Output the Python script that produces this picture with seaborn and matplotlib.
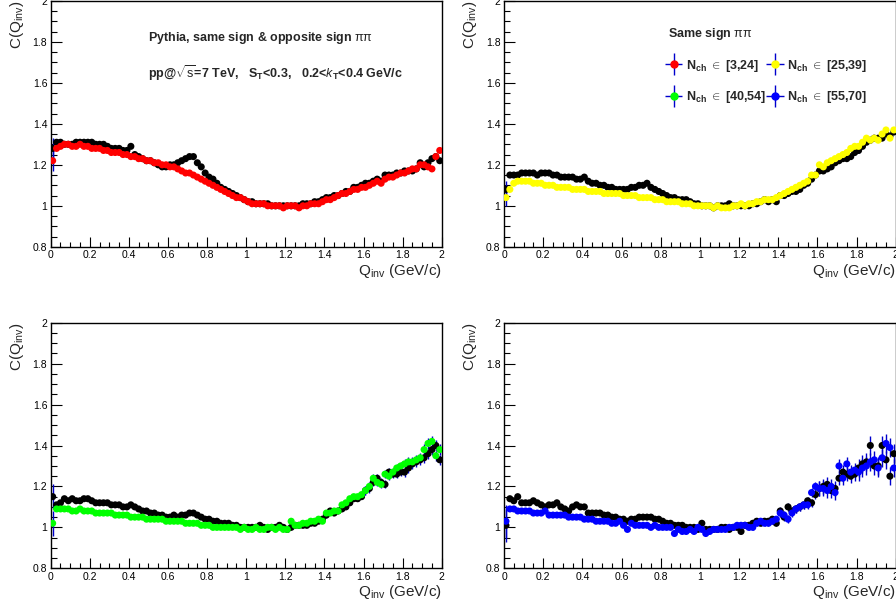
import numpy as np
import pandas as pd
import matplotlib
matplotlib.use("Agg")
import matplotlib.pyplot as plt
import seaborn as sns
from matplotlib.ticker import MultipleLocator
from matplotlib.legend_handler import HandlerErrorbar
from matplotlib.container import ErrorbarContainer

# ---------------- data ----------------
q_inv = np.round(np.arange(0.01, 2.0, 0.02), 2)

p1_black = [1.28, 1.31, 1.31, 1.30, 1.30, 1.30, 1.31, 1.31, 1.31, 1.31,
            1.31, 1.30, 1.30, 1.30, 1.29, 1.28, 1.28, 1.28, 1.27, 1.27,
            1.29, 1.25, 1.24, 1.23, 1.22, 1.22, 1.21, 1.20, 1.19, 1.19,
            1.20, 1.20, 1.21, 1.22, 1.23, 1.24, 1.24, 1.21, 1.19, 1.16,
            1.14, 1.13, 1.11, 1.09, 1.08, 1.07, 1.06, 1.05, 1.04, 1.03,
            1.02, 1.02, 1.01, 1.01, 1.01, 1.01, 1.00, 1.00, 1.00, 1.00,
            1.00, 1.00, 1.00, 1.00, 1.01, 1.01, 1.01, 1.02, 1.02, 1.03,
            1.04, 1.04, 1.05, 1.05, 1.06, 1.07, 1.07, 1.09, 1.09, 1.10,
            1.11, 1.11, 1.12, 1.13, 1.12, 1.15, 1.15, 1.15, 1.16, 1.16,
            1.17, 1.17, 1.17, 1.18, 1.21, 1.19, 1.21, 1.23, 1.24, 1.22]
p1_red = [1.22, 1.28, 1.29, 1.30, 1.30, 1.29, 1.29, 1.30, 1.29, 1.29,
          1.28, 1.28, 1.28, 1.27, 1.27, 1.26, 1.26, 1.26, 1.25, 1.25,
          1.24, 1.24, 1.23, 1.23, 1.22, 1.22, 1.21, 1.21, 1.20, 1.20,
          1.19, 1.19, 1.18, 1.17, 1.16, 1.16, 1.15, 1.14, 1.13, 1.12,
          1.11, 1.10, 1.09, 1.08, 1.07, 1.06, 1.05, 1.04, 1.04, 1.03,
          1.02, 1.01, 1.01, 1.01, 1.01, 1.00, 1.00, 1.00, 1.00, 0.99,
          1.00, 1.00, 1.00, 0.99, 1.00, 1.00, 1.01, 1.01, 1.01, 1.02,
          1.03, 1.03, 1.04, 1.05, 1.06, 1.06, 1.07, 1.08, 1.08, 1.09,
          1.09, 1.10, 1.11, 1.12, 1.11, 1.13, 1.14, 1.14, 1.15, 1.16,
          1.16, 1.17, 1.18, 1.18, 1.20, 1.20, 1.19, 1.18, 1.24, 1.27]

p2_black = [1.08, 1.15, 1.15, 1.15, 1.16, 1.16, 1.16, 1.16, 1.15, 1.16,
            1.16, 1.16, 1.15, 1.15, 1.14, 1.14, 1.14, 1.14, 1.13, 1.13,
            1.14, 1.12, 1.11, 1.11, 1.10, 1.10, 1.09, 1.09, 1.08, 1.08,
            1.08, 1.08, 1.09, 1.09, 1.10, 1.10, 1.11, 1.09, 1.08, 1.07,
            1.06, 1.05, 1.04, 1.04, 1.03, 1.03, 1.03, 1.02, 1.01, 1.01,
            1.00, 1.00, 1.00, 0.99, 1.00, 1.00, 1.00, 1.01, 1.00, 1.00,
            1.00, 1.00, 1.00, 1.01, 1.01, 1.02, 1.03, 1.02, 1.03, 1.02,
            1.05, 1.05, 1.06, 1.07, 1.07, 1.08, 1.10, 1.11, 1.13, 1.15,
            1.17, 1.17, 1.18, 1.19, 1.21, 1.22, 1.23, 1.23, 1.24, 1.26,
            1.27, 1.29, 1.31, 1.32, 1.33, 1.33, 1.33, 1.35, 1.34, 1.36]
p2_yellow = [1.04, 1.08, 1.11, 1.12, 1.12, 1.12, 1.12, 1.11, 1.11, 1.11,
             1.10, 1.10, 1.10, 1.09, 1.09, 1.09, 1.09, 1.08, 1.08, 1.08,
             1.08, 1.07, 1.07, 1.07, 1.07, 1.06, 1.06, 1.06, 1.06, 1.06,
             1.05, 1.05, 1.05, 1.05, 1.04, 1.04, 1.04, 1.04, 1.03, 1.03,
             1.03, 1.02, 1.02, 1.02, 1.02, 1.01, 1.01, 1.01, 1.00, 1.00,
             1.00, 1.00, 1.00, 0.99, 1.00, 0.99, 0.99, 0.99, 1.00, 1.00,
             1.01, 1.00, 1.01, 1.01, 1.02, 1.02, 1.03, 1.03, 1.03, 1.04,
             1.05, 1.06, 1.07, 1.08, 1.09, 1.10, 1.11, 1.12, 1.15, 1.15,
             1.20, 1.19, 1.21, 1.22, 1.23, 1.24, 1.25, 1.26, 1.28, 1.29,
             1.29, 1.31, 1.33, 1.32, 1.33, 1.32, 1.35, 1.37, 1.33, 1.37]

p3_black = [1.15, 1.11, 1.12, 1.14, 1.13, 1.14, 1.13, 1.13, 1.14, 1.14,
            1.13, 1.12, 1.12, 1.12, 1.12, 1.11, 1.11, 1.11, 1.10, 1.10,
            1.11, 1.10, 1.09, 1.08, 1.08, 1.07, 1.07, 1.06, 1.06, 1.05,
            1.05, 1.06, 1.05, 1.06, 1.06, 1.07, 1.07, 1.06, 1.05, 1.04,
            1.04, 1.03, 1.03, 1.02, 1.02, 1.02, 1.01, 1.01, 1.00, 1.00,
            1.00, 1.00, 1.00, 1.01, 1.00, 0.99, 1.00, 1.00, 1.01, 1.00,
            0.99, 1.00, 1.01, 1.01, 1.01, 1.01, 1.02, 1.02, 1.03, 1.04,
            1.06, 1.08, 1.07, 1.08, 1.09, 1.10, 1.12, 1.14, 1.14, 1.15,
            1.18, 1.19, 1.22, 1.24, 1.22, 1.21, 1.27, 1.26, 1.26, 1.27,
            1.27, 1.29, 1.31, 1.32, 1.33, 1.34, 1.36, 1.38, 1.40, 1.33]
p3_green = [1.02, 1.09, 1.09, 1.09, 1.09, 1.08, 1.08, 1.09, 1.08, 1.08,
            1.08, 1.07, 1.07, 1.07, 1.07, 1.07, 1.06, 1.06, 1.06, 1.06,
            1.05, 1.05, 1.05, 1.05, 1.04, 1.04, 1.04, 1.04, 1.04, 1.03,
            1.03, 1.03, 1.03, 1.03, 1.02, 1.02, 1.02, 1.02, 1.01, 1.01,
            1.01, 1.00, 1.00, 1.00, 1.00, 1.00, 1.00, 1.00, 0.99, 1.00,
            0.99, 0.99, 1.00, 0.99, 0.99, 1.00, 1.00, 0.99, 1.00, 0.99,
            0.99, 1.03, 1.01, 1.01, 1.02, 1.02, 1.03, 1.03, 1.04, 1.03,
            1.07, 1.07, 1.08, 1.08, 1.11, 1.12, 1.14, 1.15, 1.15, 1.16,
            1.18, 1.20, 1.24, 1.22, 1.21, 1.26, 1.25, 1.27, 1.29, 1.30,
            1.31, 1.32, 1.32, 1.33, 1.34, 1.38, 1.41, 1.42, 1.35, 1.38]

p4_black = [1.01, 1.14, 1.13, 1.15, 1.12, 1.12, 1.12, 1.13, 1.12, 1.11,
            1.10, 1.11, 1.11, 1.12, 1.10, 1.09, 1.08, 1.10, 1.11, 1.10,
            1.10, 1.07, 1.07, 1.07, 1.07, 1.06, 1.06, 1.05, 1.05, 1.04,
            1.04, 1.03, 1.04, 1.04, 1.05, 1.05, 1.05, 1.05, 1.04, 1.04,
            1.03, 1.02, 1.02, 1.01, 1.01, 1.01, 1.00, 1.00, 1.00, 0.99,
            1.02, 0.99, 0.99, 0.99, 0.99, 1.00, 1.00, 0.99, 1.00, 1.00,
            0.98, 1.01, 1.01, 1.02, 1.03, 1.02, 1.03, 1.03, 1.04, 1.02,
            1.08, 1.05, 1.10, 1.08, 1.09, 1.10, 1.11, 1.13, 1.12, 1.16,
            1.19, 1.20, 1.21, 1.18, 1.19, 1.24, 1.27, 1.26, 1.25, 1.26,
            1.29, 1.31, 1.32, 1.40, 1.30, 1.30, 1.40, 1.33, 1.25, 1.36]
p4_blue = [1.03, 1.09, 1.09, 1.08, 1.08, 1.08, 1.08, 1.07, 1.07, 1.07,
           1.08, 1.06, 1.06, 1.06, 1.06, 1.06, 1.05, 1.05, 1.05, 1.05,
           1.04, 1.04, 1.04, 1.03, 1.03, 1.03, 1.03, 1.02, 1.02, 1.03,
           1.01, 0.99, 1.02, 1.01, 1.01, 1.01, 1.01, 1.00, 1.01, 1.00,
           1.00, 1.00, 1.00, 0.97, 0.99, 0.98, 0.98, 0.99, 0.98, 1.00,
           0.99, 0.97, 0.98, 0.99, 0.99, 0.99, 0.99, 1.00, 1.00, 1.01,
           1.01, 1.01, 1.00, 1.00, 1.02, 1.03, 1.02, 1.02, 1.03, 1.04,
           1.07, 1.06, 1.04, 1.07, 1.09, 1.10, 1.11, 1.11, 1.17, 1.20,
           1.19, 1.19, 1.18, 1.20, 1.17, 1.30, 1.24, 1.31, 1.27, 1.28,
           1.27, 1.29, 1.30, 1.32, 1.33, 1.29, 1.34, 1.41, 1.39, 1.29]

# statistical uncertainties: first bin and per 0.2 GeV/c segment
p1_err_first, p1_err_seg = 0.05, [0.005, 0.005, 0.005, 0.005, 0.005, 0.005, 0.005, 0.006, 0.007, 0.008]
p2_err_first, p2_err_seg = 0.04, [0.004, 0.004, 0.004, 0.004, 0.004, 0.004, 0.005, 0.006, 0.008, 0.010]
p3_err_first, p3_err_seg = 0.06, [0.005, 0.005, 0.005, 0.005, 0.005, 0.006, 0.008, 0.012, 0.020, 0.025]
p4_err_first, p4_err_seg = 0.08, [0.007, 0.007, 0.007, 0.007, 0.008, 0.009, 0.012, 0.020, 0.035, 0.045]

legend_labels = ["[3,24]", "[25,39]", "[40,54]", "[55,70]"]
series_colors = ["#ff0000", "#ffff00", "#00ff00", "#0000ff"]
err_color = "#0000cc"

# ---------------- style ----------------
sns.set_theme(style="ticks")
plt.rcParams["font.family"] = ["Liberation Sans", "DejaVu Sans"]
plt.rcParams["mathtext.fontset"] = "custom"
plt.rcParams["mathtext.rm"] = "Liberation Sans"
plt.rcParams["mathtext.it"] = "Liberation Sans:italic"
plt.rcParams["mathtext.bf"] = "Liberation Sans:bold"

fig = plt.figure(figsize=(8.96, 6.05), dpi=100)
W, H = 896.0, 605.0
boxes = [(50.7, 0.8, 391.0, 246.0), (504.0, 0.8, 391.8, 246.0),
         (50.7, 322.7, 391.0, 245.6), (504.0, 322.7, 391.8, 245.6)]
axes = [fig.add_axes([x / W, 1 - (y + h) / H, w / W, h / H]) for (x, y, w, h) in boxes]

panels = [
    (p1_black, p1_red, series_colors[0], p1_err_first, p1_err_seg),
    (p2_black, p2_yellow, series_colors[1], p2_err_first, p2_err_seg),
    (p3_black, p3_green, series_colors[2], p3_err_first, p3_err_seg),
    (p4_black, p4_blue, series_colors[3], p4_err_first, p4_err_seg),
]

for ax, (yb, yc, col, ef, es) in zip(axes, panels):
    err = np.repeat(np.array(es), 10)
    err[0] = ef
    df = pd.DataFrame({"q": q_inv, "black": yb, "col": yc, "err": err})
    for key, mc in (("black", "black"), ("col", col)):
        ax.errorbar(df["q"], df[key], yerr=df["err"], fmt="none", ecolor=err_color,
                    elinewidth=1.0, capsize=0, zorder=2)
        sns.scatterplot(data=df, x="q", y=key, ax=ax, color=mc, s=26,
                        edgecolor="none", linewidth=0, zorder=3, legend=False)

    ax.set_xlim(0, 2)
    ax.set_ylim(0.8, 2.0)
    ax.xaxis.set_minor_locator(MultipleLocator(0.05))
    ax.yaxis.set_minor_locator(MultipleLocator(0.05))
    ax.set_xticks(np.arange(0, 2.01, 0.2))
    ax.set_xticklabels(["0", "0.2", "0.4", "0.6", "0.8", "1", "1.2", "1.4", "1.6", "1.8", "2"])
    ax.set_yticks(np.arange(0.8, 2.01, 0.2))
    ax.set_yticklabels(["0.8", "1", "1.2", "1.4", "1.6", "1.8", "2"])
    ax.tick_params(axis="both", which="both", direction="in", top=False, right=False,
                   labelsize=7.5, colors="black", pad=2.5)
    ax.tick_params(axis="y", which="major", length=8, width=0.8)
    ax.tick_params(axis="y", which="minor", length=4, width=0.8)
    ax.tick_params(axis="x", which="major", length=7, width=0.8)
    ax.tick_params(axis="x", which="minor", length=3.5, width=0.8)
    for sp in ax.spines.values():
        sp.set_visible(True)
        sp.set_linewidth(1.0)
        sp.set_color("black")
    ax.set_xlabel(r"Q$_{\rm inv}$ (GeV/c)", loc="right", fontsize=11, labelpad=1)
    ax.set_ylabel(r"C(Q$_{\rm inv}$)", loc="top", fontsize=11, labelpad=5)
    ax.set_facecolor("white")

# annotation text on panel 1
axes[0].text(0.249, 0.85, r"Pythia, same sign & opposite sign $\mathrm{\pi\pi}$",
             transform=axes[0].transAxes, fontsize=9, fontweight="bold", va="center")
axes[0].text(0.249, 0.705,
             r"pp@$\sqrt{\rm s}$=7 TeV,   S$_{\mathbf{T}}$<0.3,   0.2<$\mathit{k}_{\mathbf{T}}$<0.4 GeV/c",
             transform=axes[0].transAxes, fontsize=9, fontweight="bold", va="center")

# legend on panel 2
axes[1].text(0.418, 0.866, r"Same sign $\mathrm{\pi\pi}$", transform=axes[1].transAxes,
             fontsize=9, fontweight="bold", va="center")
handles = []
for c in series_colors:
    h = axes[1].errorbar([], [], xerr=[], yerr=[], fmt="o", color=c, ecolor=err_color,
                         markersize=5, elinewidth=1.0, capsize=0)
    handles.append(h)
labels = [r"$\mathbf{N_{ch}}$ $\in$ " + l for l in legend_labels]
order = [0, 2, 1, 3]  # row-wise filling: [3,24] [25,39] / [40,54] [55,70]
leg = axes[1].legend([handles[i] for i in order], [labels[i] for i in order], ncol=2,
                     loc="upper left", bbox_to_anchor=(0.39, 0.805), frameon=False, fontsize=9,
                     handlelength=1.3, handletextpad=0.3, columnspacing=0.1,
                     labelspacing=1.25, borderpad=0.2,
                     handler_map={ErrorbarContainer: HandlerErrorbar(xerr_size=0.7, yerr_size=0.9)})
for t in leg.get_texts():
    t.set_fontweight("bold")

fig.savefig("out.png", dpi=100, facecolor="white")
